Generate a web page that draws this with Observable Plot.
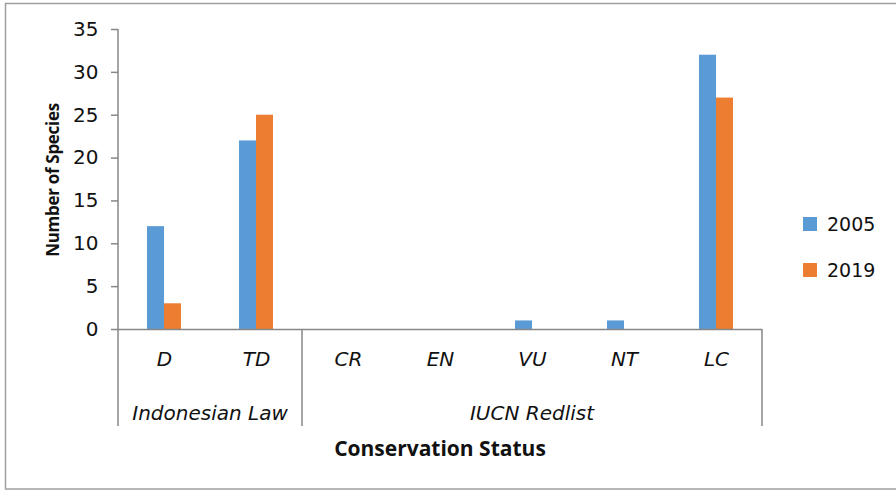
<!DOCTYPE html>
<html><head><meta charset="utf-8">
<script src="https://cdn.jsdelivr.net/npm/d3@7"></script>
<script src="https://cdn.jsdelivr.net/npm/@observablehq/plot@0.6"></script>
<style>body{margin:0;background:#fff}</style>
</head><body><div id="chart"></div>
<script>
const categories = ["D", "TD", "CR", "EN", "VU", "NT", "LC"];
const years = ["2005", "2019"];
const values2005 = [12, 22, 0, 0, 1, 1, 32];
const values2019 = [3, 25, 0, 0, 0, 0, 27];
const groupNames = ["Indonesian Law", "IUCN Redlist"];
const groupMembers = [["D", "TD"], ["CR", "EN", "VU", "NT", "LC"]];
const yTicks = [0, 5, 10, 15, 20, 25, 30, 35];
const colors = ["#5B9BD5", "#ED7D31"];

const data = categories.flatMap((c, i) => [
  {category: c, year: years[0], value: values2005[i]},
  {category: c, year: years[1], value: values2019[i]}
]);

const font = "'DejaVu Sans', sans-serif";
const boldFont = "'Open Sans', sans-serif";
const axisColor = "#878787";

const plot = Plot.plot({
  width: 896, height: 491,
  marginLeft: 117, marginRight: 133, marginTop: 29, marginBottom: 162,
  style: {fontFamily: font, background: "#fff", overflow: "visible", color: "#000"},
  fx: {domain: categories, padding: 0, axis: null, label: null},
  x: {domain: years, paddingInner: 0, paddingOuter: 1.56, axis: null},
  y: {domain: [0, 35], axis: null},
  color: {domain: years, range: colors},
  marks: [
    Plot.barY(data, {fx: "category", x: "year", y: "value", fill: "year"}),
    Plot.ruleY([0], {stroke: axisColor, strokeWidth: 1.5}),
    Plot.axisY(yTicks, {tickSize: 7, tickPadding: 13, fontSize: 20, stroke: axisColor, strokeWidth: 1.5, fill: "#111", label: null}),
    Plot.text(categories, {fx: d => d, text: d => d, frameAnchor: "bottom", dy: 36, fontSize: 20, fontStyle: "italic", fill: "#111"})
  ]
});

document.getElementById("chart").append(plot);

const svg = d3.select(plot);
const fx = plot.scale("fx");
const y = plot.scale("y");
const y0 = y.apply(0);
const yTop = y.apply(35);
const bw = fx.bandwidth;
const bottomDivider = y0 + 97;

// outer border
svg.insert("rect", ":first-child")
  .attr("x", 5.5).attr("y", 3.5).attr("width", 900).attr("height", 485.5)
  .attr("fill", "#fff").attr("stroke", "#a0a0a0").attr("stroke-width", 1.5);

// axis line and group dividers
const g = svg.append("g").attr("stroke", axisColor).attr("stroke-width", 1.5);
g.append("line").attr("x1", fx.apply(categories[0])).attr("x2", fx.apply(categories[0]))
  .attr("y1", yTop).attr("y2", bottomDivider);
groupMembers.forEach((m, i) => {
  const xl = fx.apply(m[0]);
  const xr = fx.apply(m[m.length - 1]) + bw;
  if (i > 0) g.append("line").attr("x1", xl).attr("x2", xl).attr("y1", y0).attr("y2", bottomDivider);
  if (i === groupMembers.length - 1) g.append("line").attr("x1", xr).attr("x2", xr).attr("y1", y0).attr("y2", bottomDivider);
  svg.append("text").attr("x", (xl + xr) / 2).attr("y", y0 + 84).attr("dy", "0.35em")
    .attr("text-anchor", "middle").attr("font-size", 20).attr("font-style", "italic")
    .attr("font-family", font).attr("fill", "#111").text(groupNames[i]);
});

// x title
const xr0 = fx.apply(categories[0]);
const xr1 = fx.apply(categories[categories.length - 1]) + bw;
svg.append("text").attr("x", (xr0 + xr1) / 2).attr("y", y0 + 120).attr("dy", "0.35em")
  .attr("text-anchor", "middle").attr("font-size", 21).attr("font-weight", "bold")
  .attr("font-family", boldFont).attr("fill", "#111").text("Conservation Status");

// y title
svg.append("text").attr("transform", `translate(53,180) rotate(-90)`)
  .attr("dy", "0.35em").attr("text-anchor", "middle").attr("font-size", 17).attr("font-weight", "bold")
  .attr("letter-spacing", "-0.3px")
  .attr("font-family", boldFont).attr("fill", "#111").text("Number of Species");

// legend
const leg = svg.append("g").attr("font-family", font).attr("font-size", 19).attr("text-anchor", "start");
years.forEach((yr, i) => {
  const ly = 224 + i * 46;
  leg.append("rect").attr("x", 803).attr("y", ly - 7).attr("width", 14).attr("height", 14).attr("fill", colors[i]);
  leg.append("text").attr("x", 827).attr("y", ly).attr("dy", "0.35em").attr("fill", "#111").text(yr);
});
</script>
</body></html>
